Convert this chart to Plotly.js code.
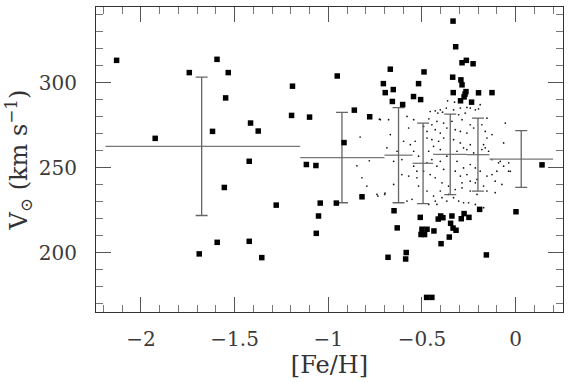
<!DOCTYPE html>
<html>
<head>
<meta charset="utf-8">
<script src="https://cdn.plot.ly/plotly-3.0.1.min.js"></script>
<style>html,body{margin:0;padding:0;background:#fff}#chart{width:570px;height:382px}</style>
</head>
<body>
<div id="chart"></div>
<script>
// Individual stars ([Fe/H], V_sun)
const starFe = [-2.130,-1.924,-1.742,-1.594,-1.534,-1.548,-1.618,-1.415,-1.374,-1.422,-1.555,-1.593,-1.422,-1.689,-1.355,
  -1.191,-1.196,-1.100,-0.952,-0.861,-0.779,-0.916,-0.669,-0.706,-0.653,-0.696,-0.658,-1.117,-1.066,-1.278,-1.043,-0.957,
  -1.052,-1.064,-0.820,-0.649,-0.632,-0.681,-0.334,-0.320,-0.263,-0.286,-0.227,-0.489,-0.518,-0.336,-0.292,-0.286,-0.333,
  -0.265,-0.270,-0.275,-0.198,-0.126,-0.294,-0.235,-0.545,-0.507,-0.603,0.141,-0.509,-0.400,-0.413,-0.388,-0.340,-0.290,
  -0.275,-0.249,-0.192,0.002,-0.500,-0.473,-0.505,-0.486,-0.436,-0.347,-0.334,-0.318,-0.354,-0.398,-0.584,-0.587,-0.156,
  -0.475,-0.447];
const starV = [313.1,267.2,305.9,313.7,305.9,291.0,271.3,276.2,271.5,253.7,238.3,206.0,206.6,199.2,197.0,
  297.9,280.7,279.7,303.9,283.8,279.9,264.7,307.9,299.4,295.9,294.1,288.9,251.8,251.2,227.9,229.1,229.1,
  221.5,211.3,232.8,224.6,214.5,197.2,336.2,321.1,313.1,311.7,311.1,306.3,299.4,303.2,301.6,298.7,294.1,
  294.7,293.2,291.6,294.0,294.1,289.3,288.5,291.8,290.0,287.1,251.6,220.7,221.5,219.7,220.5,221.5,219.9,
  222.9,220.7,225.4,224.0,213.7,213.7,210.6,210.6,212.7,217.2,214.4,213.1,209.1,205.2,200.0,196.2,198.6,
  173.6,173.6];

// Background disc-star cloud (small dots)
const dotFe = [-0.363,-0.326,-0.370,-0.402,-0.429,-0.456,-0.415,-0.390,-0.331,-0.295,-0.242,-0.215,-0.198,-0.304,-0.269,
  -0.260,-0.189,-0.420,-0.463,-0.544,-0.580,-0.678,-0.722,-0.571,-0.447,-0.384,-0.340,-0.286,-0.242,-0.180,-0.153,-0.491,
  -0.473,-0.429,-0.402,-0.367,-0.322,-0.295,-0.260,-0.224,-0.162,-0.153,-0.126,-0.055,-0.064,-0.669,-0.598,-0.562,-0.536,
  -0.473,-0.447,-0.411,-0.384,-0.331,-0.295,-0.278,-0.242,-0.171,-0.162,-0.687,-0.633,-0.651,-0.607,-0.544,-0.518,-0.464,
  -0.438,-0.402,-0.313,-0.260,-0.224,-0.180,-0.144,-0.126,-0.082,-0.064,-0.037,-0.100,-0.109,-0.073,-0.037,-0.126,-0.153,
  -0.189,-0.215,-0.242,-0.278,-0.313,-0.322,-0.295,-0.260,-0.286,-0.242,-0.206,-0.215,-0.171,-0.153,-0.206,-0.242,-0.286,
  -0.322,-0.358,-0.393,-0.429,-0.456,-0.491,-0.527,-0.571,-0.607,-0.651,-0.740,-0.794,-0.820,-0.518,-0.473,-0.438,-0.429,
  -0.393,-0.367,-0.331,-0.304,-0.278,-0.251,-0.215,-0.171,-0.580,-0.553,-0.464,-0.420,-0.358,-0.402,-0.544,-0.527,-0.420,
  -0.384,-0.473,-0.367,-0.447,-0.402,-0.830,-0.847,-0.781,-0.727,-0.697,-0.091,-0.028,-0.109,-0.735,-0.699];
const dotV = [289.3,288.5,285.0,284.0,283.4,283.0,282.1,282.6,284.0,285.0,285.0,284.0,284.6,281.1,282.1,
  285.4,287.0,277.2,278.7,278.2,280.1,278.2,278.2,273.3,275.2,276.2,277.2,278.2,275.2,275.2,279.1,274.2,
  271.3,272.3,270.3,273.3,272.3,271.3,270.3,273.3,271.3,267.4,269.4,276.2,264.5,269.4,265.5,263.5,265.5,
  267.4,266.4,265.5,267.4,266.4,264.5,261.6,263.5,263.5,261.6,261.6,259.6,253.7,254.7,259.6,256.7,259.6,
  262.5,260.6,259.6,260.6,258.6,260.6,259.6,254.7,253.7,250.8,247.9,247.9,242.0,240.1,252.8,245.9,245.0,
  247.9,249.8,251.8,249.8,253.7,247.9,245.0,245.9,241.0,242.0,243.0,241.0,239.1,236.2,234.2,236.2,238.1,
  237.1,239.1,241.0,244.0,245.9,247.9,244.0,245.0,245.9,240.1,234.2,239.1,244.0,239.1,236.2,233.2,230.3,
  232.3,230.3,232.3,230.3,229.3,229.3,228.3,226.4,230.3,231.3,228.3,228.3,234.2,236.2,250.8,247.9,250.8,
  248.9,252.8,256.7,254.7,253.7,268.0,251.0,254.0,278.5,235.0,252.8,247.8,235.2,233.2,234.2];

// Binned means and dispersions
const binLo   = [-2.19, -1.15, -0.70, -0.55, -0.44, -0.26, -0.14];
const binHi   = [-1.15, -0.70, -0.55, -0.44, -0.26, -0.14,  0.20];
const binFe   = [-1.676, -0.927, -0.625, -0.494, -0.349, -0.201, 0.030];
const binMean = [262.5, 255.9, 257.3, 252.5, 257.8, 257.6, 255.0];
const binSd   = [40.7, 26.6, 28.0, 23.7, 23.7, 21.5, 16.7];

const hx = [], hy = [];
for (let i = 0; i < binLo.length; i++) {
  hx.push(binLo[i], binHi[i], null);
  hy.push(binMean[i], binMean[i], null);
}

const FONT = 'DejaVu Serif, Liberation Serif, serif';
const traces = [
  {x: dotFe, y: dotV, type: 'scatter', mode: 'markers',
   marker: {symbol: 'circle', size: 1.7, color: '#111'}, hoverinfo: 'skip'},
  {x: hx, y: hy, type: 'scatter', mode: 'lines',
   line: {color: '#777', width: 1.3}, hoverinfo: 'skip'},
  {x: binFe, y: binMean, type: 'scatter', mode: 'markers',
   marker: {size: 1, color: 'rgba(0,0,0,0)'},
   error_y: {type: 'data', array: binSd, visible: true, color: '#666', thickness: 1.3, width: 6}},
  {x: starFe, y: starV, type: 'scatter', mode: 'markers',
   marker: {symbol: 'square', size: 5.5, color: '#000'}}
];

const axisCommon = {
  showgrid: false, zeroline: false, showline: true, linecolor: '#333', linewidth: 1,
  mirror: 'allticks', ticks: 'inside', ticklen: 15, tickwidth: 1, tickcolor: '#555',
  tickfont: {family: FONT, size: 20, color: '#3a3a3a'}
};

const layout = {
  width: 570, height: 382,
  margin: {l: 96, r: 7, t: 7, b: 70},
  paper_bgcolor: '#fff', plot_bgcolor: '#fff',
  showlegend: false,
  xaxis: Object.assign({}, axisCommon, {
    range: [-2.24, 0.253], dtick: 0.5, tick0: 0,
    minor: {dtick: 0.1, ticklen: 7, tickcolor: '#777', ticks: 'inside'},
    ticklabelstandoff: 9,
    title: {text: '[Fe/H]', font: {family: FONT, size: 24, color: '#333'}, standoff: 6}
  }),
  yaxis: Object.assign({}, axisCommon, {
    range: [165, 344.5], dtick: 50, tick0: 0,
    minor: {dtick: 10, ticklen: 7, tickcolor: '#777', ticks: 'inside'},
    ticklabelstandoff: 14,
    title: {text: 'V<sub>⊙</sub> (km s<sup>−1</sup>)', font: {family: FONT, size: 24, color: '#333'}, standoff: 4}
  })
};

Plotly.newPlot('chart', traces, layout, {staticPlot: true, displayModeBar: false});
</script>
</body>
</html>
